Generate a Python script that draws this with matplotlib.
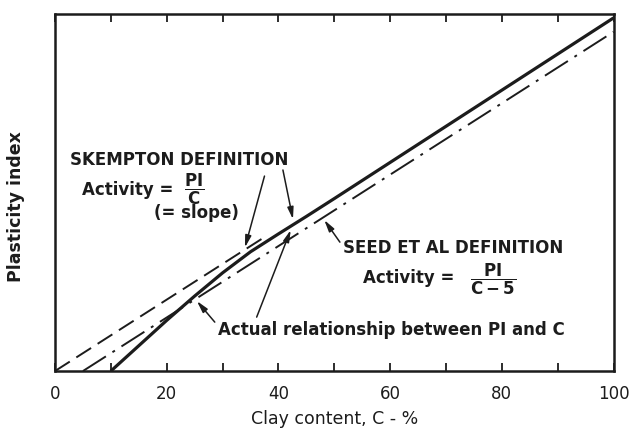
import matplotlib
matplotlib.use('Agg')
import matplotlib.pyplot as plt

# curves (clay content C in %, PI in arbitrary units 0-100)
clay_actual = [10, 15, 20, 25, 30, 35, 40, 45, 50, 100]
pi_actual = [0, 7.1, 14.2, 21.0, 27.5, 33.4, 38.4, 43.3, 48.3, 98.9]

clay_skempton = [0, 38]
pi_skempton = [0, 38]

clay_seed = [5, 100]
pi_seed = [0, 95]

x_major = [0, 20, 40, 60, 80, 100]
x_minor = [10, 30, 50, 70, 90]

ink = '#1c1c1c'
plt.rcParams['font.family'] = ['DejaVu Sans']
plt.rcParams['mathtext.fontset'] = 'dejavusans'

fig = plt.figure(figsize=(6.34, 4.36), dpi=100)
ax = fig.add_axes([0.0868, 0.149, 0.881, 0.819])

ax.plot(clay_actual, pi_actual, color=ink, lw=2.3, solid_capstyle='butt')
ax.plot(clay_skempton, pi_skempton, color=ink, lw=1.4, dashes=(9, 4))
ax.plot(clay_seed, pi_seed, color=ink, lw=1.4, dashes=(14, 4, 1.5, 4))

ax.set_xlim(0, 100)
ax.set_ylim(0, 100)
ax.set_xticks(x_major)
ax.set_xticklabels([str(v) for v in x_major])
ax.set_xticks(x_minor, minor=True)
ax.set_yticks([])
ax.tick_params(axis='x', which='both', direction='in', top=True, length=6,
               width=1.3, color=ink, pad=10, labelsize=12, labelcolor=ink)
for s in ax.spines.values():
    s.set_linewidth(1.8)
    s.set_color(ink)

ax.set_xlabel('Clay content, C - %', fontsize=12.5, color=ink, labelpad=5)
ax.set_ylabel('Plasticity index', fontsize=12.5, color=ink, fontweight='bold')
ax.yaxis.set_label_coords(-0.054, 0.462)

tk = dict(color=ink, fontsize=12, fontweight='bold')
arr = dict(arrowstyle='-|>,head_length=0.7,head_width=0.18', color=ink,
           lw=1.1, shrinkA=0, shrinkB=0)

# Skempton
ax.text(2.7, 59.1, 'SKEMPTON DEFINITION', va='center', ha='left', **tk)
ax.text(4.8, 50.7, 'Activity =', va='center', ha='left', **tk)
ax.text(25.0, 50.9, r'$\dfrac{\mathbf{PI}}{\mathbf{C}}$', va='center', ha='center',
        color=ink, fontsize=12)
ax.text(25.4, 44.3, '(= slope)', va='center', ha='center', **tk)
ax.annotate('', xy=(34.0, 34.6), xytext=(37.5, 54.6), arrowprops=arr)
ax.annotate('', xy=(42.6, 42.5), xytext=(40.8, 56.3), arrowprops=arr)

# Seed et al
ax.text(71.2, 34.5, 'SEED ET AL DEFINITION', va='center', ha='center', **tk)
ax.text(55.1, 26.0, 'Activity =', va='center', ha='left', **tk)
ax.text(78.4, 25.6, r'$\dfrac{\mathbf{PI}}{\mathbf{C-5}}$', va='center', ha='center',
        color=ink, fontsize=12)
ax.annotate('', xy=(48.2, 42.3), xytext=(51.0, 36.1), arrowprops=arr)

# actual relationship
ax.text(29.2, 11.5, 'Actual relationship between PI and C', va='center', ha='left', **tk)
ax.annotate('', xy=(25.4, 19.6), xytext=(28.6, 13.7), arrowprops=arr)
ax.annotate('', xy=(42.2, 39.5), xytext=(36.1, 15.1), arrowprops=arr)

fig.savefig('out.png', dpi=100)
